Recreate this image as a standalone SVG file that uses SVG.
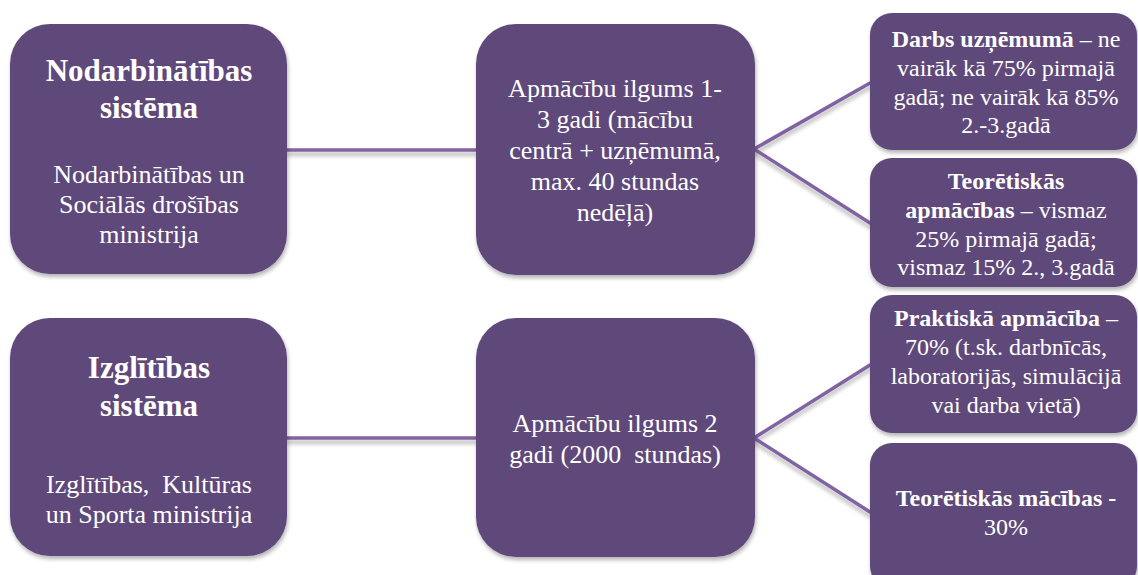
<svg xmlns="http://www.w3.org/2000/svg" width="1138" height="575" viewBox="0 0 1138 575">
<defs>
<filter id="sh" x="-10%" y="-10%" width="130%" height="140%">
<feGaussianBlur in="SourceAlpha" stdDeviation="2"/>
<feOffset dx="1" dy="3" result="o"/>
<feComponentTransfer><feFuncA type="linear" slope="0.3"/></feComponentTransfer>
<feMerge><feMergeNode/><feMergeNode in="SourceGraphic"/></feMerge>
</filter>
<filter id="lsh" x="-5%" y="-50%" width="110%" height="300%">
<feGaussianBlur in="SourceAlpha" stdDeviation="2"/>
<feOffset dx="0" dy="4" result="o"/>
<feComponentTransfer><feFuncA type="linear" slope="0.3"/></feComponentTransfer>
<feMerge><feMergeNode/><feMergeNode in="SourceGraphic"/></feMerge>
</filter>
</defs>
<style>
.box{fill:#5f497a;filter:url(#sh)}
text{font-family:'Liberation Serif','DejaVu Serif',serif;fill:#ffffff;text-anchor:middle;white-space:pre}
.ttl{font-size:31px;font-weight:bold}
.s26{font-size:26px}
.s24{font-size:24px}
.b{font-weight:bold}
.con{stroke:#8064a2;stroke-width:3.5;fill:none;stroke-linecap:round}
</style>
<rect width="1138" height="575" fill="#ffffff"/>
<g id="connectors" filter="url(#lsh)">
<line class="con" x1="287" y1="150" x2="476" y2="150"/>
<line class="con" x1="754" y1="149" x2="870" y2="83"/>
<line class="con" x1="754" y1="149" x2="870" y2="223"/>
<line class="con" x1="287" y1="438" x2="476" y2="438"/>
<line class="con" x1="754" y1="438" x2="870" y2="365"/>
<line class="con" x1="754" y1="438" x2="870" y2="512"/>
</g>
<g font-family="Liberation Serif, DejaVu Serif, serif">
<g id="n-nodarb">
<rect class="box" x="10" y="24" width="277" height="250" rx="40"/>
<text class="ttl" x="149" y="81">Nodarbinātības</text>
<text class="ttl" x="149" y="118">sistēma</text>
<text class="s26" x="149" y="183">Nodarbinātības un</text>
<text class="s26" x="149" y="213">Sociālās drošības</text>
<text class="s26" x="149" y="243">ministrija</text>
</g>
<g id="n-apm1">
<rect class="box" x="476" y="24" width="279" height="251" rx="40"/>
<text class="s26" x="615" y="97">Apmācību ilgums 1-</text>
<text class="s26" x="615" y="128">3 gadi (mācību</text>
<text class="s26" x="615" y="159">centrā + uzņēmumā,</text>
<text class="s26" x="615" y="190">max. 40 stundas</text>
<text class="s26" x="615" y="221">nedēļā)</text>
</g>
<g id="n-darbs">
<rect class="box" x="870" y="13" width="267" height="137" rx="22"/>
<text class="s24" x="1006" y="47"><tspan class="b">Darbs uzņēmumā</tspan> – ne</text>
<text class="s24" x="1006" y="76">vairāk kā 75% pirmajā</text>
<text class="s24" x="1006" y="105">gadā; ne vairāk kā 85%</text>
<text class="s24" x="1006" y="133">2.-3.gadā</text>
</g>
<g id="n-teor1">
<rect class="box" x="870" y="158" width="267" height="129" rx="22"/>
<text class="s24 b" x="1006" y="189">Teorētiskās</text>
<text class="s24" x="1006" y="218"><tspan class="b">apmācības</tspan> – vismaz</text>
<text class="s24" x="1006" y="247">25% pirmajā gadā;</text>
<text class="s24" x="1006" y="275">vismaz 15% 2., 3.gadā</text>
</g>
<g id="n-izgl">
<rect class="box" x="10" y="318" width="277" height="238" rx="40"/>
<text class="ttl" x="149" y="378">Izglītības</text>
<text class="ttl" x="149" y="416">sistēma</text>
<text class="s26" x="149" y="493">Izglītības,  Kultūras</text>
<text class="s26" x="149" y="523">un Sporta ministrija</text>
</g>
<g id="n-apm2">
<rect class="box" x="476" y="318" width="279" height="239" rx="40"/>
<text class="s26" x="615" y="432">Apmācību ilgums 2</text>
<text class="s26" x="615" y="463">gadi (2000  stundas)</text>
</g>
<g id="n-prakt">
<rect class="box" x="870" y="295" width="267" height="138" rx="22"/>
<text class="s24" x="1006" y="326"><tspan class="b">Praktiskā apmācība</tspan> –</text>
<text class="s24" x="1006" y="355">70% (t.sk. darbnīcās,</text>
<text class="s24" x="1006" y="384">laboratorijās, simulācijā</text>
<text class="s24" x="1006" y="413">vai darba vietā)</text>
</g>
<g id="n-teor2">
<rect class="box" x="870" y="443" width="267" height="145" rx="22"/>
<text class="s24 b" x="1006" y="506">Teorētiskās mācības -</text>
<text class="s24" x="1006" y="535">30%</text>
</g>
</g>
</svg>
